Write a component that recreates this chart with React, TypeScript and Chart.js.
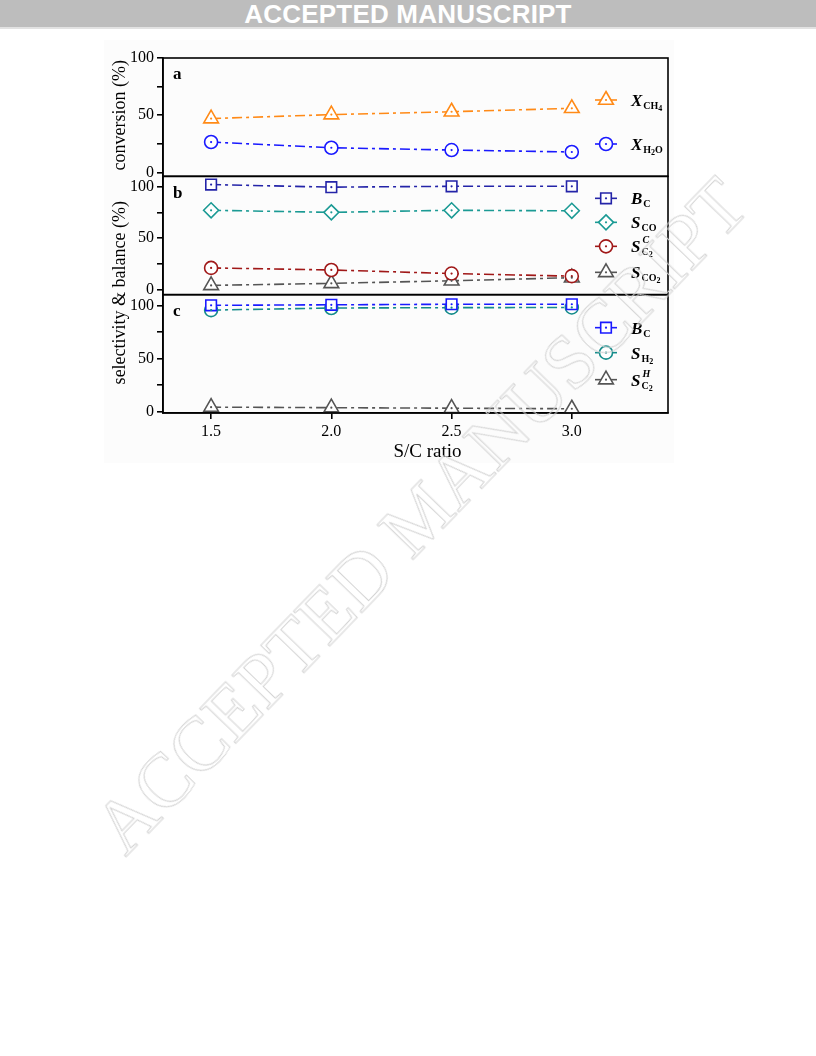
import React, { useEffect, useRef } from 'react';
import { Chart, registerables } from 'chart.js';

Chart.register(...registerables);

// ---------- data ----------
const scRatio = [1.5, 2.0, 2.5, 3.0];
const xTickValues = [1.5, 2.0, 2.5, 3.0];
const yTickValues = [0, 25, 50, 75, 100];
const yLabeledTicks = [0, 50, 100];

// panel a: conversion (%)
const xCH4 = [47, 50.5, 53, 56];
const xH2O = [26.5, 21.5, 19.5, 17.8];

// panel b: selectivity & carbon balance (%)
const bCarbonB = [102, 99.5, 100.3, 100.3];
const sCO = [77, 75, 77, 76.5];
const sC2Carbon = [21, 19, 15.5, 13];
const sCO2 = [4, 6, 8.5, 11.5];

// panel c: selectivity & hydrogen balance (%)
const bCarbonC = [100, 100.5, 101, 101];
const sH2 = [95.5, 97.5, 97.8, 98];
const sC2Hydrogen = [4.5, 4, 3.5, 3];

const SERIF = '"Liberation Serif", "Times New Roman", serif';
const DASH = [10, 4, 3, 4];

type Seg = [string, 'b' | 's' | 'ss' | 'p'];
interface LegendItem { ds: number; scale: string; dy: number; segs: Seg[] }

const legendItems: LegendItem[] = [
  { ds: 0, scale: 'yA', dy: 42, segs: [['X', 'b'], ['CH', 's'], ['4', 'ss']] },
  { ds: 1, scale: 'yA', dy: 86, segs: [['X', 'b'], ['H', 's'], ['2', 'ss'], ['O', 's']] },
  { ds: 2, scale: 'yB', dy: 22, segs: [['B', 'b'], ['C', 's']] },
  { ds: 3, scale: 'yB', dy: 46, segs: [['S', 'b'], ['CO', 's']] },
  { ds: 4, scale: 'yB', dy: 70, segs: [['S', 'b'], ['C', 'p'], ['C', 's'], ['2', 'ss']] },
  { ds: 5, scale: 'yB', dy: 96, segs: [['S', 'b'], ['CO', 's'], ['2', 'ss']] },
  { ds: 6, scale: 'yC', dy: 33, segs: [['B', 'b'], ['C', 's']] },
  { ds: 7, scale: 'yC', dy: 58, segs: [['S', 'b'], ['H', 's'], ['2', 'ss']] },
  { ds: 8, scale: 'yC', dy: 85, segs: [['S', 'b'], ['H', 'p'], ['C', 's'], ['2', 'ss']] },
];

const panelLetters: [string, string][] = [['yA', 'a'], ['yB', 'b'], ['yC', 'c']];

function drawMarker(ctx: CanvasRenderingContext2D, style: string, x: number, y: number, r: number, color: string) {
  ctx.save();
  ctx.strokeStyle = color;
  ctx.fillStyle = '#ffffff';
  ctx.lineWidth = 1.6;
  ctx.beginPath();
  if (style === 'circle') {
    ctx.arc(x, y, r, 0, Math.PI * 2);
  } else if (style === 'triangle') {
    for (let k = 0; k < 3; k++) {
      const a = -Math.PI / 2 + (k * 2 * Math.PI) / 3;
      const px = x + Math.cos(a) * r;
      const py = y + Math.sin(a) * r;
      if (k === 0) ctx.moveTo(px, py); else ctx.lineTo(px, py);
    }
    ctx.closePath();
  } else if (style === 'rect') {
    const s = Math.SQRT1_2 * r;
    ctx.rect(x - s, y - s, 2 * s, 2 * s);
  } else if (style === 'rectRot') {
    ctx.moveTo(x, y - r);
    ctx.lineTo(x + r, y);
    ctx.lineTo(x, y + r);
    ctx.lineTo(x - r, y);
    ctx.closePath();
  }
  ctx.fill();
  ctx.stroke();
  ctx.fillStyle = color;
  ctx.beginPath();
  ctx.arc(x, y, 1.1, 0, Math.PI * 2);
  ctx.fill();
  ctx.restore();
}

const figurePlugin = {
  id: 'figurePlugin',
  afterDatasetsDraw(chart: any) {
    const ctx: CanvasRenderingContext2D = chart.ctx;
    ctx.save();
    chart.data.datasets.forEach((ds: any, i: number) => {
      const meta = chart.getDatasetMeta(i);
      ctx.fillStyle = ds.borderColor;
      meta.data.forEach((pt: any) => {
        ctx.beginPath();
        ctx.arc(pt.x, pt.y, 1.1, 0, Math.PI * 2);
        ctx.fill();
      });
    });
    ctx.restore();
  },
  afterDraw(chart: any) {
    const ctx: CanvasRenderingContext2D = chart.ctx;
    const area = chart.chartArea;
    const sA = chart.scales.yA, sB = chart.scales.yB, sC = chart.scales.yC;
    ctx.save();
    // frames
    ctx.strokeStyle = '#000';
    ctx.lineWidth = 1.6;
    [sA, sB, sC].forEach((s: any) => {
      ctx.strokeRect(area.left, s.top, area.right - area.left, s.bottom - s.top);
    });
    // panel letters
    ctx.fillStyle = '#000';
    ctx.font = `bold 17px ${SERIF}`;
    ctx.textBaseline = 'middle';
    ctx.textAlign = 'left';
    panelLetters.forEach(([id, t]) => {
      const s = chart.scales[id];
      ctx.fillText(t, area.left + 10, s.top + 17);
    });
    // y titles
    ctx.font = `18px ${SERIF}`;
    ctx.textAlign = 'center';
    ctx.textBaseline = 'middle';
    ctx.save();
    ctx.translate(120, (sA.top + sA.bottom) / 2 - 2);
    ctx.rotate(-Math.PI / 2);
    ctx.fillText('conversion (%)', 0, 0);
    ctx.restore();
    ctx.save();
    ctx.translate(120, (sB.top + sC.bottom) / 2 - 2);
    ctx.rotate(-Math.PI / 2);
    ctx.fillText('selectivity & balance (%)', 0, 0);
    ctx.restore();
    // x title
    ctx.font = `19px ${SERIF}`;
    ctx.fillText('S/C ratio', (area.left + area.right) / 2 + 12, area.bottom + 39);
    // legends
    legendItems.forEach((it) => {
      const ds = chart.data.datasets[it.ds];
      const s = chart.scales[it.scale];
      const y = s.top + it.dy;
      const x0 = area.right - 73, x1 = area.right - 51;
      ctx.strokeStyle = ds.borderColor;
      ctx.lineWidth = 1.6;
      ctx.setLineDash([]);
      ctx.beginPath();
      ctx.moveTo(x0, y);
      ctx.lineTo(x1, y);
      ctx.stroke();
      drawMarker(ctx, ds.pointStyle, (x0 + x1) / 2, y, ds.pointRadius, ds.borderColor);
      let x = area.right - 37;
      ctx.fillStyle = '#000';
      ctx.textAlign = 'left';
      ctx.textBaseline = 'alphabetic';
      it.segs.forEach(([t, k]) => {
        if (k === 'b') {
          ctx.font = `bold italic 17px ${SERIF}`;
          ctx.fillText(t, x, y + 6);
          x += ctx.measureText(t).width + 1;
        } else if (k === 's') {
          ctx.font = `bold 10px ${SERIF}`;
          ctx.fillText(t, x, y + 9);
          x += ctx.measureText(t).width;
        } else if (k === 'ss') {
          ctx.font = `bold 8px ${SERIF}`;
          ctx.fillText(t, x, y + 11);
          x += ctx.measureText(t).width;
        } else {
          ctx.font = `bold italic 10px ${SERIF}`;
          ctx.fillText(t, x + 1, y - 3);
        }
      });
    });
    ctx.restore();
  },
};

export default function App() {
  const ref = useRef<HTMLCanvasElement>(null);

  useEffect(() => {
    if (!ref.current) return;
    const mk = (label: string, data: number[], color: string, pointStyle: string, radius: number, yAxisID: string) => ({
      label,
      data: data.map((v, i) => ({ x: scRatio[i], y: v })),
      borderColor: color,
      backgroundColor: '#ffffff',
      pointBackgroundColor: '#ffffff',
      pointBorderColor: color,
      pointStyle,
      pointRadius: radius,
      pointBorderWidth: 1.6,
      borderWidth: 1.6,
      borderDash: DASH,
      yAxisID,
      xAxisID: 'x',
      tension: 0,
    });

    const yScale = (min: number, max: number, weight: number) => ({
      type: 'linear',
      position: 'left',
      stack: 'panels',
      stackWeight: 1,
      weight,
      min,
      max,
      afterBuildTicks: (s: any) => { s.ticks = yTickValues.map((v) => ({ value: v })); },
      afterFit: (s: any) => { s.width = 55; },
      ticks: {
        autoSkip: false,
        callback: (v: any) => (yLabeledTicks.includes(Number(v)) ? String(v) : ''),
        font: { family: SERIF, size: 16 },
        color: '#000',
        padding: 3,
      },
      grid: { display: true, drawOnChartArea: false, drawTicks: true, tickLength: 6, color: '#000', lineWidth: 1.6 },
      border: { display: true, color: '#000', width: 1.6 },
    });

    const chart = new Chart(ref.current, {
      type: 'line',
      data: {
        datasets: [
          mk('X_CH4', xCH4, '#ff8a17', 'triangle', 8.5, 'yA'),
          mk('X_H2O', xH2O, '#1a1aff', 'circle', 6.5, 'yA'),
          mk('B_C', bCarbonB, '#2424a8', 'rect', 7.5, 'yB'),
          mk('S_CO', sCO, '#1b9a94', 'rectRot', 7.5, 'yB'),
          mk('S_C2^C', sC2Carbon, '#a01818', 'circle', 6.5, 'yB'),
          mk('S_CO2', sCO2, '#555555', 'triangle', 8.5, 'yB'),
          mk('B_C', bCarbonC, '#1a1aff', 'rect', 7.5, 'yC'),
          mk('S_H2', sH2, '#148c8a', 'circle', 6.5, 'yC'),
          mk('S_C2^H', sC2Hydrogen, '#555555', 'triangle', 8.5, 'yC'),
        ] as any,
      },
      options: {
        animation: false,
        responsive: false,
        maintainAspectRatio: false,
        layout: { padding: { left: 108, right: 148, top: 58, bottom: 12 } },
        plugins: { legend: { display: false }, tooltip: { enabled: false } },
        scales: {
          x: {
            type: 'linear',
            position: 'bottom',
            min: 1.3,
            max: 3.4,
            afterBuildTicks: (s: any) => { s.ticks = xTickValues.map((v) => ({ value: v })); },
            afterFit: (s: any) => { s.height = 55; },
            ticks: {
              autoSkip: false,
              maxRotation: 0,
              callback: (v: any) => Number(v).toFixed(1),
              font: { family: SERIF, size: 16 },
              color: '#000',
              padding: 3,
            },
            grid: { display: true, drawOnChartArea: false, drawTicks: true, tickLength: 6, color: '#000', lineWidth: 1.6 },
            border: { display: true, color: '#000', width: 1.6 },
          },
          yA: yScale(-3.5, 100, 3),
          yB: yScale(-5, 110, 2),
          yC: yScale(-1, 110, 1),
        } as any,
      },
      plugins: [figurePlugin as any],
    });
    return () => chart.destroy();
  }, []);

  return (
    <div style={{ position: 'fixed', left: 0, top: 0, width: 816, height: 1056, overflow: 'hidden', background: '#ffffff' }}>
      <div
        style={{
          position: 'absolute', left: 0, top: 0, width: 816, height: 27, overflow: 'hidden',
          background: '#bdbdbd',
          color: '#ffffff', fontFamily: '"Liberation Sans", Arial, sans-serif', fontWeight: 'bold',
          fontSize: 26, lineHeight: '28px', textAlign: 'center', letterSpacing: '0.2px',
        }}
      >
        ACCEPTED MANUSCRIPT
      </div>
      <div style={{ position: 'absolute', left: 0, top: 27, width: 816, height: 2, background: '#e2e2e2' }} />
      <div style={{ position: 'absolute', left: 104, top: 40, width: 570, height: 423, background: '#fcfcfc' }} />
      <canvas ref={ref} width={816} height={480} style={{ position: 'absolute', left: 0, top: 0, width: 816, height: 480 }} />
      <div
        style={{
          position: 'absolute', left: 420, top: 515, transform: 'translate(-50%, -50%) rotate(-46deg)',
          fontFamily: SERIF, fontSize: 76, whiteSpace: 'nowrap', color: 'transparent',
          WebkitTextStroke: '1px #d4d4d4', pointerEvents: 'none', lineHeight: 1,
        }}
      >
        ACCEPTED MANUSCRIPT
      </div>
    </div>
  );
}
